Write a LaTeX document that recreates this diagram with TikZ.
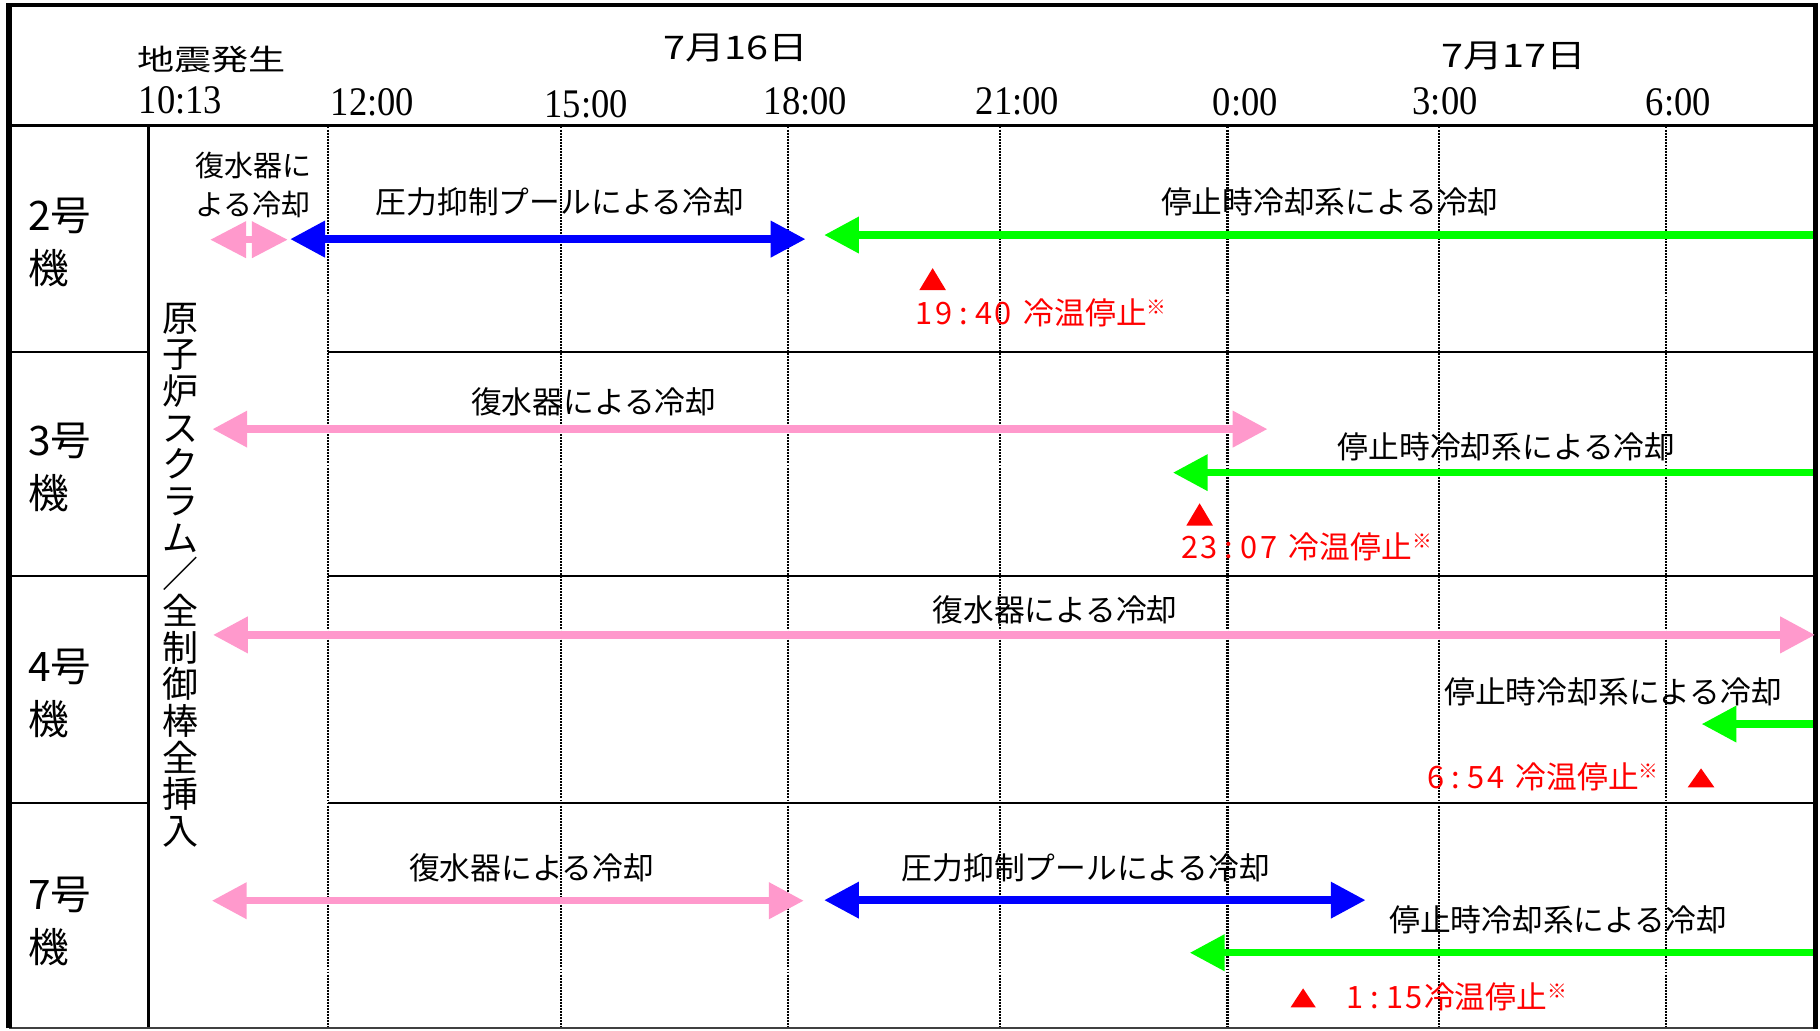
\documentclass[tikz,border=0pt]{standalone}
\usepackage{graphicx}
\usepackage{fontspec}
\setmainfont{Noto Sans CJK JP}
\newfontfamily\tms{Liberation Serif}
\usetikzlibrary{arrows.meta}
\definecolor{cpink}{RGB}{255,153,204}
\definecolor{cblue}{RGB}{0,0,255}
\definecolor{cgreen}{RGB}{0,255,0}
\definecolor{cred}{RGB}{255,0,0}
\newcommand{\dcell}[1]{\makebox[8.5pt]{#1}}
\newcommand{\kome}{\raisebox{0.32em}{\fontsize{8.5}{10}\selectfont ※}}
\begin{document}
\begin{tikzpicture}[x=0.5pt,y=-0.5pt,
  every node/.style={inner sep=0pt,outer sep=0pt},
  lbl/.style={font=\fontsize{13.25}{16}\selectfont},
  unitlbl/.style={font=\fontsize{17.5}{22.75}\selectfont,align=left,anchor=west},
  timelbl/.style={font=\tms\fontsize{17.5}{20}\selectfont},
  hdr/.style={font=\fontsize{12.5}{15}\selectfont},
  daylbl/.style={font=\fontsize{14}{16}\selectfont},
  redlbl/.style={font=\fontsize{13.25}{16}\selectfont,text=cred,anchor=west},
  dotline/.style={line width=1.05pt,dash pattern=on 0.85pt off 0.45pt},
  rowline/.style={line width=1pt},
  flowline/.style={line width=3.25pt},
  tipboth/.style={{Triangle[length=15pt,width=15pt]}-{Triangle[length=15pt,width=15pt]}},
  tipend/.style={-{Triangle[length=15pt,width=15pt]}},
  marker/.style={fill=cred},
]
\useasboundingbox (0,0) rectangle (1568,887.4);
\fill[white] (0,0) rectangle (1568,887.4);

% grid lines
\draw[line width=1.15pt] (7.6,108) -- (1564.4,108);
\foreach \yy in {303,496,692}{
  \draw[rowline] (7.6,\yy) -- (128,\yy);
  \draw[rowline] (282.5,\yy) -- (1564.4,\yy);
}
\draw[rowline] (128,108) -- (128,886);
\foreach \xx in {282.5,483.5,679,861.6,1057.5,1239.5,1435.5}{
  \draw[dotline] (\xx,109) -- (\xx,886);
}
% frame
\draw[line width=0.85pt,black!75] (7.6,886) -- (1564.4,886);
\draw[line width=2.45pt] (7.6,886) -- (7.6,4.3);
\draw[line width=2pt] (5.2,4.3) -- (1566.6,4.3);
\draw[line width=2.2pt] (1564.4,4.3) -- (1564.4,886.8);

% header
\node[hdr] (quake) at (182.5,51) {\resizebox{64pt}{\height}{地震発生}};
\node[daylbl] (d16) at (634,41) {\resizebox{62.5pt}{\height}{7月16日}};
\node[daylbl] (d17) at (1304,48) {\resizebox{62.5pt}{\height}{7月17日}};
\node[timelbl] (t1013) at (155.5,86.5) {\scalebox{0.9}[1]{10:13}};
\node[timelbl] (t12) at (321,88.5) {\scalebox{0.9}[1]{12:00}};
\node[timelbl] (t15) at (505,89.5) {\scalebox{0.9}[1]{15:00}};
\node[timelbl] (t18) at (694,87.5) {\scalebox{0.9}[1]{18:00}};
\node[timelbl] (t21) at (876.5,87.5) {\scalebox{0.9}[1]{21:00}};
\node[timelbl] (t0) at (1073,88) {\scalebox{0.9}[1]{0:00}};
\node[timelbl] (t3) at (1245,87) {\scalebox{0.9}[1]{3:00}};
\node[timelbl] (t6) at (1446,88) {\scalebox{0.9}[1]{6:00}};

% unit labels
\node[unitlbl] (u2) at (24.5,209) {2号\\機};
\node[unitlbl] (u3) at (24.5,403) {3号\\機};
\node[unitlbl] (u4) at (24.5,597.3) {4号\\機};
\node[unitlbl] (u7) at (24.5,794) {7号\\機};

% vertical text
\node[font=\fontsize{15.5}{15.8}\selectfont,align=center] (scram) at (155.7,495.5)
  {原\\子\\炉\\ス\\ク\\ラ\\ム\\／\\全\\制\\御\\棒\\全\\挿\\入};

% ---- Unit 2
\node[font=\fontsize{12.5}{17}\selectfont,align=center] (l2a) at (218,159.5) {復水器に\\よる冷却};
\node[lbl] (l2b) at (482.5,173.5) {圧力抑制プールによる冷却};
\node[lbl] (l2c) at (1145.7,173.5) {停止時冷却系による冷却};
\coordinate (a2s) at (181,206.5); \coordinate (a2e) at (248,206.5);
\draw[flowline,draw=cpink,{Triangle[length=15.5pt,width=15pt]}-{Triangle[length=15.5pt,width=15pt]}] (a2s) -- (a2e);
\coordinate (b2s) at (250,206); \coordinate (b2e) at (694,206);
\draw[flowline,draw=cblue,tipboth] (b2s) -- (b2e);
\coordinate (g2s) at (1562,202.5); \coordinate (g2e) at (710,202.5);
\draw[flowline,draw=cgreen,tipend] (g2s) -- (g2e);
\fill[marker] (792,250) -- (815,250) -- (803.5,231) -- cycle;
\node[redlbl] (r2) at (788,269.8) {\dcell{1}\dcell{9}\dcell{:}\dcell{4}\dcell{0}\hspace{4.5pt}冷温停止\kome};

% ---- Unit 3
\node[lbl] (l3a) at (511.5,346) {復水器による冷却};
\node[lbl] (l3b) at (1298,384.8) {停止時冷却系による冷却};
\coordinate (a3s) at (183,369.7); \coordinate (a3e) at (1092,369.7);
\draw[flowline,draw=cpink,tipboth] (a3s) -- (a3e);
\coordinate (g3s) at (1562,407.2); \coordinate (g3e) at (1010.5,407.2);
\draw[flowline,draw=cgreen,tipend] (g3s) -- (g3e);
\fill[marker] (1022,452.9) -- (1045,452.9) -- (1033.5,433.6) -- cycle;
\node[redlbl] (r3) at (1016.5,471) {\dcell{2}\dcell{3}\dcell{:}\dcell{0}\dcell{7}\hspace{4.5pt}冷温停止\kome};

% ---- Unit 4
\node[lbl] (l4a) at (909,525.5) {復水器による冷却};
\node[lbl] (l4b) at (1389.8,596) {停止時冷却系による冷却};
\coordinate (a4s) at (183.5,547); \coordinate (a4e) at (1563.7,547);
\draw[flowline,draw=cpink,tipboth] (a4s) -- (a4e);
\coordinate (g4s) at (1562,623.8); \coordinate (g4e) at (1466,623.8);
\draw[flowline,draw=cgreen,tipend] (g4s) -- (g4e);
\fill[marker] (1454,678.3) -- (1477,678.3) -- (1465.5,662) -- cycle;
\node[redlbl] (r4) at (1229,669) {\dcell{6}\dcell{:}\dcell{5}\dcell{4}\hspace{4.5pt}冷温停止\kome};

% ---- Unit 7
\node[lbl] (l7a) at (458,748) {復水器による冷却};
\node[lbl] (l7b) at (935.5,748) {圧力抑制プールによる冷却};
\node[lbl] (l7c) at (1342.3,792.5) {停止時冷却系による冷却};
\coordinate (a7s) at (182.5,776); \coordinate (a7e) at (692.5,776);
\draw[flowline,draw=cpink,tipboth] (a7s) -- (a7e);
\coordinate (b7s) at (710,775.5); \coordinate (b7e) at (1176.5,775.5);
\draw[flowline,draw=cblue,tipboth] (b7s) -- (b7e);
\coordinate (g7s) at (1562,820.8); \coordinate (g7e) at (1025,820.8);
\draw[flowline,draw=cgreen,tipend] (g7s) -- (g7e);
\fill[marker] (1111.8,867.9) -- (1133.6,867.9) -- (1122.7,851.5) -- cycle;
\node[redlbl] (r7) at (1159,858.5) {\dcell{1}\dcell{:}\dcell{1}\dcell{5}冷温停止\kome};
\end{tikzpicture}
\end{document}
